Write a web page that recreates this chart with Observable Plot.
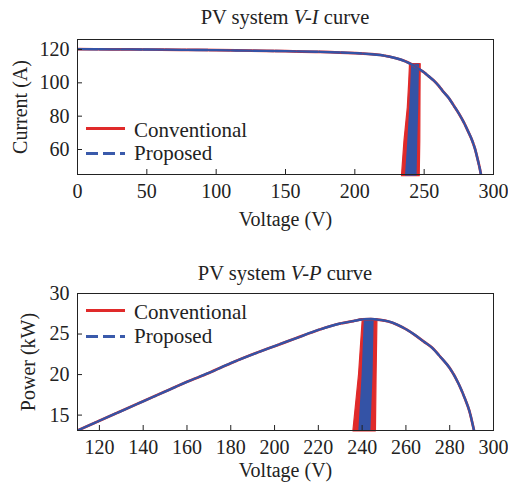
<!DOCTYPE html>
<html>
<head>
<meta charset="utf-8">
<script src="https://cdn.jsdelivr.net/npm/d3@7"></script>
<script src="https://cdn.jsdelivr.net/npm/@observablehq/plot@0.6"></script>
<style>
  html, body { margin: 0; padding: 0; background: #fff; }
  #page { position: relative; width: 508px; height: 488px; font-family: "Liberation Serif", "Times New Roman", serif; color: #222; }
  .title { margin-left: 77px; width: 416px; text-align: center; font-size: 20.5px; white-space: nowrap; }
  #t1 { height: 32px; line-height: 34px; }
  #t2 { height: 30px; line-height: 30px; padding-top: 24px; }
  .legend { position: absolute; left: 86px; font-size: 21px; }
  .row { position: relative; height: 26px; }
  .sw { position: absolute; left: 0; width: 39px; height: 3.2px; }
  .sw.conv { background: #e02a2a; }
  .sw.prop { background: repeating-linear-gradient(90deg, #3a5aab 0 12px, transparent 12px 17px); }
  .lab { position: absolute; left: 48px; line-height: 26px; white-space: nowrap; }
  svg { display: block; }
</style>
</head>
<body>
<div id="page">
  <div class="title" id="t1">PV system <i>V-I</i> curve</div>
  <div id="c1"></div>
  <div class="title" id="t2">PV system <i>V-P</i> curve</div>
  <div id="c2"></div>
  <div class="legend" style="top:115px">
    <div class="row"><div class="sw conv" style="top:11.5px"></div><div class="lab" style="top:2px">Conventional</div></div>
    <div class="row"><div class="sw prop" style="top:11px"></div><div class="lab" style="top:-1px">Proposed</div></div>
  </div>
  <div class="legend" style="top:297px">
    <div class="row"><div class="sw conv" style="top:11.5px"></div><div class="lab" style="top:2px">Conventional</div></div>
    <div class="row"><div class="sw prop" style="top:12px"></div><div class="lab" style="top:0px">Proposed</div></div>
  </div>
</div>
<script>
// Colours of the two MPPT schemes
const RED = "#e02a2a";
const BLUE = "#3453a6";

// V-I characteristic of the PV array (voltage in V, current in A)
const ivVoltage = [0, 25, 50, 75, 100, 125, 150, 175, 200, 210, 218.5, 225, 232.9, 238, 242.5, 246, 249.7, 253, 256.9, 260.5, 264.1, 268, 271.3, 275, 278.5, 281.5, 284.6, 286.5, 288.2, 290, 291.1];
const ivCurrent = [120.2, 120.1, 120.0, 119.8, 119.6, 119.3, 119.0, 118.6, 117.8, 117.3, 116.7, 115.7, 114.0, 112.3, 110.4, 108.5, 106.4, 104.1, 101.4, 98.2, 94.4, 90.6, 86.4, 81.6, 76.4, 71.2, 65.4, 60.8, 55.4, 49.0, 44.4];

// V-P characteristic of the PV array (voltage in V, power in kW)
const pvVoltage = [110, 120, 130, 140, 150, 160, 170, 180, 190, 200, 210, 220, 230, 236, 240, 244, 248, 252, 256, 260, 264, 268, 272, 276, 280, 284, 287, 289, 291.1];
const pvPower = [13.1, 14.3, 15.5, 16.7, 17.9, 19.1, 20.2, 21.4, 22.5, 23.5, 24.5, 25.5, 26.3, 26.6, 26.8, 26.85, 26.75, 26.55, 26.15, 25.6, 24.9, 24.1, 23.3, 22.1, 20.8, 18.9, 17.0, 15.5, 13.1];

// Spread of the operating point during tracking, V-I plane
const ivBandCurrent = [111.2, 100, 85, 65, 44];
const ivConvLow  = [239.8, 239.2, 238.2, 235.8, 234.0];
const ivConvHigh = [247.5, 247.4, 247.3, 247.2, 246.8];
const ivPropLow  = [240.9, 240.4, 239.6, 238.2, 236.5];
const ivPropHigh = [246.7, 246.4, 246.1, 245.4, 244.9];

// Spread of the operating point during tracking, V-P plane
const pvBandPower = [26.85, 20, 13];
const pvConvLow  = [240.3, 238.6, 236.0];
const pvConvHigh = [247.0, 246.6, 246.3];
const pvPropLow  = [241.0, 240.0, 238.5];
const pvPropHigh = [245.5, 245.0, 244.0];

// Axis ticks and labels
const ivXTicks = [0, 50, 100, 150, 200, 250, 300];
const ivYTicks = [60, 80, 100, 120];
const pvXTicks = [120, 140, 160, 180, 200, 220, 240, 260, 280, 300];
const pvYTicks = [15, 20, 25, 30];
const xLabel = "Voltage (V)";
const ivYLabel = "Current (A)";
const pvYLabel = "Power (kW)";

const curve = (xs, ys) => xs.map((x, i) => ({x, y: ys[i]}));
const band = (ys, lo, hi) => ys.map((y, i) => ({y, lo: lo[i], hi: hi[i]}));

const FONT = '"Liberation Serif", "Times New Roman", serif';

function panel({xDomain, yDomain, xTicks, yTicks, yLabel, pts, conv, prop, height, mt, mb, xPad, xLabelDy, yLabelDx}) {
  const W = 508, ML = 77, MR = 15;
  const ph = height - mt - mb, pw = W - ML - MR;
  return Plot.plot({
    width: W, height,
    marginLeft: ML, marginRight: MR, marginTop: mt, marginBottom: mb,
    x: {domain: xDomain},
    y: {domain: yDomain},
    style: {fontFamily: FONT, fontSize: "20px", color: "#222", background: "transparent", overflow: "visible"},
    marks: [
      Plot.areaX(conv, {y: "y", x1: "lo", x2: "hi", fill: RED, stroke: RED, strokeWidth: 1.2, curve: "linear"}),
      Plot.areaX(prop, {y: "y", x1: "lo", x2: "hi", fill: BLUE, curve: "linear"}),
      Plot.line(pts, {x: "x", y: "y", stroke: RED, strokeWidth: 2.7, curve: "monotone-x", clip: true}),
      Plot.line(pts, {x: "x", y: "y", stroke: BLUE, strokeWidth: 2.4, strokeDasharray: "20,2", curve: "monotone-x", clip: true}),
      Plot.frame({stroke: "#222", strokeWidth: 1}),
      Plot.ruleX(xTicks, {stroke: "#222", insetTop: ph - 5}),
      Plot.ruleY(yTicks, {stroke: "#222", insetRight: pw - 5}),
      Plot.axisX({ticks: xTicks, tickSize: 0, tickPadding: xPad, label: null, tickFormat: d => String(d)}),
      Plot.axisY({ticks: yTicks, tickSize: 0, tickPadding: 8, label: null, tickFormat: d => String(d)}),
      Plot.text([xLabel], {text: d => d, frameAnchor: "bottom", dy: xLabelDy, textAnchor: "middle", lineAnchor: "middle", fontSize: 20}),
      Plot.text([yLabel], {text: d => d, frameAnchor: "left", dx: yLabelDx, rotate: -90, textAnchor: "middle", lineAnchor: "middle", fontSize: 20})
    ]
  });
}

document.getElementById("c1").append(panel({
  xDomain: [0, 300], yDomain: [45, 126],
  xTicks: ivXTicks, yTicks: ivYTicks, yLabel: ivYLabel,
  pts: curve(ivVoltage, ivCurrent),
  conv: band(ivBandCurrent, ivConvLow, ivConvHigh),
  prop: band(ivBandCurrent, ivPropLow, ivPropHigh),
  height: 202, mt: 7, mb: 60, xPad: 9, xLabelDy: 45, yLabelDx: -57
}));

document.getElementById("c2").append(panel({
  xDomain: [110, 300], yDomain: [13.1, 30],
  xTicks: pvXTicks, yTicks: pvYTicks, yLabel: pvYLabel,
  pts: curve(pvVoltage, pvPower),
  conv: band(pvBandPower, pvConvLow, pvConvHigh),
  prop: band(pvBandPower, pvPropLow, pvPropHigh),
  height: 200, mt: 5, mb: 58, xPad: 9, xLabelDy: 40, yLabelDx: -49
}));
</script>
</body>
</html>
